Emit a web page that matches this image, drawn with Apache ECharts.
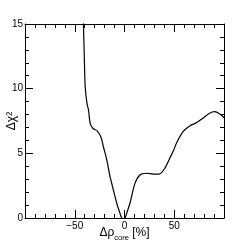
<!DOCTYPE html>
<html>
<head>
<meta charset="utf-8">
<script src="https://cdn.jsdelivr.net/npm/echarts@6/dist/echarts.min.js"></script>
<style>html,body{margin:0;padding:0;background:#fff;}#c{width:249px;height:243px;}</style>
</head>
<body>
<div id="c"></div>
<script>
var rho  = [-41.4, -40.5, -39.5, -37.8, -36.2, -34.5, -31.8, -27.8, -23.8, -21.2, -17.8, -14.5, -11.2, -7.8, -4.5, -2.8, -1.2, 0.5, 3, 5.5, 10.5, 15.5, 22.2, 28.8, 34.8, 40.5, 45.5, 49.5, 52.2, 58.8, 65.5, 72.2, 78.8, 85.5, 90.5, 93.8, 97.2, 100];
var chi2 = [15.3, 12.76, 10.15, 8.9, 8.35, 7.32, 6.94, 6.75, 6.29, 5.51, 4.49, 3.19, 2.17, 1.14, 0.36, 0.0, -0.12, 0.0, 0.55, 1.14, 2.68, 3.33, 3.46, 3.4, 3.4, 3.84, 4.62, 5.26, 5.78, 6.67, 7.11, 7.37, 7.71, 8.1, 8.22, 8.14, 7.97, 7.75];
var xTicks = [-50, 0, 50];
var yTicks = [0, 5, 10, 15];
var xTitle = ['Δρ', 'core', ' [%]'];
var yTitle = 'Δχ²';

var font = 'Liberation Sans, Arial, Helvetica, sans-serif';
function fmt(v){ return v < 0 ? '\u2212' + Math.abs(v) : String(v); }
var pts = rho.map(function(r,i){ return [r, chi2[i]]; });

function ax(extra){
  var o = {
    axisLine: {show: true, onZero: false, lineStyle: {color: '#000', width: 1}},
    axisTick: {show: true, inside: true, length: 8, lineStyle: {color: '#000', width: 1}},
    minorTick: {show: true, splitNumber: 5, length: 4, lineStyle: {color: '#000', width: 1}},
    splitLine: {show: false},
    minorSplitLine: {show: false}
  };
  for (var k in extra) o[k] = extra[k];
  return o;
}

var chart = echarts.init(document.getElementById('c'), null, {renderer: 'canvas'});
chart.setOption({
  animation: false,
  backgroundColor: '#fff',
  grid: {left: 25, right: 25, top: 24, bottom: 25, containLabel: false, outerBoundsMode: 'none'},
  xAxis: [
    ax({type: 'value', position: 'bottom', min: -100, max: 100, interval: 50,
      axisLabel: {color: '#000', fontFamily: font, fontSize: 10, margin: 3,
        formatter: function(v){ return xTicks.indexOf(v) >= 0 ? fmt(v) : ''; }},
      name: '{m|' + xTitle[0] + '}{s|' + xTitle[1] + '}{m|' + xTitle[2] + '}',
      nameLocation: 'middle', nameGap: 6, nameMoveOverlap: false,
      nameTextStyle: {rich: {
        m: {fontFamily: font, fontSize: 12, color: '#000', lineHeight: 18, verticalAlign: 'middle'},
        s: {fontFamily: font, fontSize: 7.5, color: '#000', lineHeight: 6, verticalAlign: 'bottom'}
      }}
    }),
    ax({type: 'value', position: 'top', min: -100, max: 100, interval: 50,
      axisLabel: {show: false}})
  ],
  yAxis: [
    ax({type: 'value', position: 'left', min: 0, max: 15, interval: 5,
      axisLabel: {color: '#000', fontFamily: font, fontSize: 10, margin: 2,
        formatter: function(v){ return yTicks.indexOf(v) >= 0 ? fmt(v) : ''; }},
      name: yTitle, nameLocation: 'middle', nameRotate: 90, nameGap: 7, nameMoveOverlap: false,
      nameTextStyle: {fontFamily: font, fontSize: 12, color: '#000'}
    }),
    ax({type: 'value', position: 'right', min: 0, max: 15, interval: 5,
      axisLabel: {show: false}})
  ],
  series: [{
    type: 'line', xAxisIndex: 0, yAxisIndex: 0,
    data: pts, showSymbol: false, symbol: 'none',
    smooth: 0.3, clip: true,
    lineStyle: {color: '#000', width: 1.2}
  }]
});
</script>
</body>
</html>
